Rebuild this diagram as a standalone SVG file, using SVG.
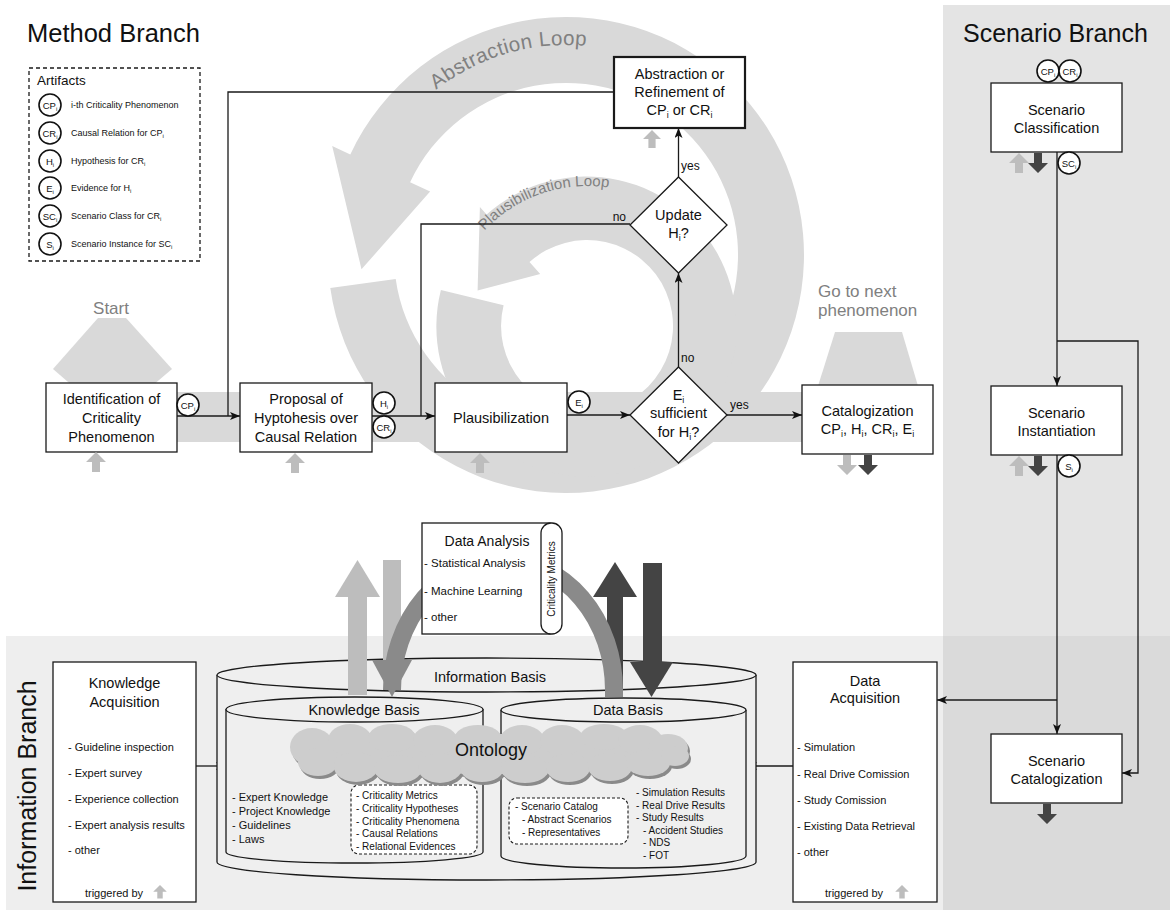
<svg xmlns="http://www.w3.org/2000/svg" width="1170" height="915" viewBox="0 0 1170 915">
<defs>
<style>
text{font-family:"Liberation Sans",Arial,sans-serif;fill:#111}
.box{fill:#fff;stroke:#1a1a1a;stroke-width:1.3}
.ln{fill:none;stroke:#1a1a1a;stroke-width:1.3}
.lna{fill:none;stroke:#1a1a1a;stroke-width:1.3;marker-end:url(#ah)}
.art{fill:#fff;stroke:#111;stroke-width:1.6}
.ring{fill:#d9d9d9}
.lt{fill:#bdbdbd}
.dk{fill:#444}
.md{fill:#8a8a8a}
.gt{fill:#808080}
.b{font-size:14.5px}
.s{font-size:11px}
.xs{font-size:10px}
.lg{font-size:9px}
.ci{font-size:9.5px}
.dash{fill:#fff;stroke:#1a1a1a;stroke-width:1.1;stroke-dasharray:3 2}
.cyl{fill:#efefef;stroke:#1a1a1a;stroke-width:1.3}
</style>
<marker id="ah" viewBox="0 0 10 8" refX="10" refY="4" markerWidth="10" markerHeight="8" orient="auto" markerUnits="userSpaceOnUse"><path d="M0,0 L10,4 L0,8 L2.5,4 Z" fill="#111"/></marker>
<path id="upa" d="M0,0 L10,10 L4,10 L4,20 L-4,20 L-4,10 L-10,10 Z"/>
<path id="dna" d="M0,20 L10,10 L4,10 L4,0 L-4,0 L-4,10 L-10,10 Z"/>
<path id="absPath" d="M 425.5 98.9 A 210 210 0 0 1 671 73.1"/>
<path id="plaPath" d="M 483 232.3 A 140 140 0 0 1 657 204.8"/>
<g id="cloudShape">
<ellipse cx="489" cy="754" rx="190" ry="20"/>
<ellipse cx="312" cy="747" rx="22" ry="19"/><ellipse cx="350" cy="740" rx="22" ry="16"/><ellipse cx="392" cy="738" rx="24" ry="14"/><ellipse cx="435" cy="740" rx="22" ry="15"/><ellipse cx="478" cy="739" rx="24" ry="14"/><ellipse cx="522" cy="740" rx="22" ry="15"/><ellipse cx="562" cy="740" rx="22" ry="15"/><ellipse cx="604" cy="737" rx="24" ry="13"/><ellipse cx="640" cy="740" rx="22" ry="15"/><ellipse cx="668" cy="748" rx="20" ry="14"/>
<ellipse cx="318" cy="762" rx="20" ry="14"/><ellipse cx="356" cy="767" rx="22" ry="15"/><ellipse cx="398" cy="769" rx="24" ry="14"/><ellipse cx="440" cy="768" rx="22" ry="15"/><ellipse cx="482" cy="768" rx="22" ry="14"/><ellipse cx="525" cy="769" rx="24" ry="14"/><ellipse cx="568" cy="768" rx="22" ry="14"/><ellipse cx="610" cy="767" rx="22" ry="14"/><ellipse cx="648" cy="763" rx="22" ry="13"/><ellipse cx="675" cy="756" rx="14" ry="10"/>
</g>
</defs>

<!-- backgrounds -->
<rect x="0" y="0" width="1170" height="915" fill="#ffffff"/>
<rect x="943" y="5" width="227" height="905" fill="#e4e4e4"/>
<rect x="6" y="636" width="937" height="274" fill="#eeeeee"/>
<rect x="943" y="636" width="227" height="274" fill="#dadada"/>

<!-- loops and flow band -->
<g id="loops">
<path class="ring" d="M 330.3 288.1 A 238 238 0 1 0 350.3 154.4 L 332.2 146.0 L 361.5 269.3 L 430.1 191.6 L 410.1 182.3 A 172 172 0 1 1 395.7 278.9 Z"/>
<path class="ring" d="M 440.9 289.9 A 150 150 0 1 0 486.6 214.5 L 479.9 207.1 L 477.6 290.5 L 540.2 274.0 L 529.5 262.1 A 86 86 0 1 1 503.6 305.2 Z"/>
<rect class="ring" x="177" y="392" width="625" height="50"/>
<polygon class="ring" points="98,318 126,318 172,369 112,420 53,369"/>
<polygon class="ring" points="835,332 902,332 918,386 818,386"/>
<text font-size="20.5" class="gt" letter-spacing="0.4"><textPath href="#absPath" startOffset="14">Abstraction Loop</textPath></text>
<text font-size="15" class="gt"><textPath href="#plaPath" startOffset="2">Plausibilization Loop</textPath></text>
<text x="111" y="314" font-size="17" text-anchor="middle" class="gt">Start</text>
<text x="818" y="297" font-size="17" class="gt">Go to next</text>
<text x="818" y="316" font-size="17" class="gt">phenomenon</text>
</g>

<!-- titles -->
<text x="27" y="42" font-size="25.5">Method Branch</text>
<text x="963" y="42" font-size="25">Scenario Branch</text>
<text transform="translate(36,786) rotate(-90)" font-size="25" text-anchor="middle">Information Branch</text>

<!-- legend -->
<g id="legend">
<rect x="29" y="68" width="171" height="193" fill="none" stroke="#1a1a1a" stroke-width="1.3" stroke-dasharray="4 3"/>
<text x="37" y="85" font-size="13.5">Artifacts</text>
<circle class="art" cx="50" cy="105" r="11"/><text class="ci" x="50" y="108.5" text-anchor="middle">CP<tspan font-size="6" dy="2">i</tspan></text>
<circle class="art" cx="50" cy="133" r="11"/><text class="ci" x="50" y="136.5" text-anchor="middle">CR<tspan font-size="6" dy="2">i</tspan></text>
<circle class="art" cx="50" cy="161" r="11"/><text class="ci" x="50" y="164.5" text-anchor="middle">H<tspan font-size="6" dy="2">i</tspan></text>
<circle class="art" cx="50" cy="188" r="11"/><text class="ci" x="50" y="191.5" text-anchor="middle">E<tspan font-size="6" dy="2">i</tspan></text>
<circle class="art" cx="50" cy="216" r="11"/><text class="ci" x="50" y="219.5" text-anchor="middle">SC<tspan font-size="6" dy="2">i</tspan></text>
<circle class="art" cx="50" cy="244" r="11"/><text class="ci" x="50" y="247.5" text-anchor="middle">S<tspan font-size="6" dy="2">i</tspan></text>
<text class="lg" x="71" y="108">i-th Criticality Phenomenon</text>
<text class="lg" x="71" y="136">Causal Relation for CP<tspan font-size="6" dy="2">i</tspan></text>
<text class="lg" x="71" y="164">Hypothesis for CR<tspan font-size="6" dy="2">i</tspan></text>
<text class="lg" x="71" y="191">Evidence for H<tspan font-size="6" dy="2">i</tspan></text>
<text class="lg" x="71" y="219">Scenario Class for CR<tspan font-size="6" dy="2">i</tspan></text>
<text class="lg" x="71" y="247">Scenario Instance for SC<tspan font-size="6" dy="2">i</tspan></text>
</g>

<!-- connectors -->
<g id="connectors">
<path class="lna" d="M177,416 L240,416"/>
<path class="ln" d="M614,92 L228,92 L228,416"/>
<path class="lna" d="M372,416 L435,416"/>
<path class="ln" d="M630,224 L421,224 L421,416"/>
<path class="lna" d="M567,415 L630,415"/>
<path class="lna" d="M678.5,367 L678.5,273"/>
<path class="lna" d="M678.5,177 L678.5,128"/>
<path class="lna" d="M727,415 L802,415"/>
<path class="lna" d="M1057,152 L1057,386"/>
<path class="lna" d="M1057,341 L1138,341 L1138,773 L1122,773"/>
<path class="lna" d="M1057,455 L1057,734"/>
<path class="lna" d="M1057,700 L937,700"/>
<path class="lna" d="M196,766 L226,766"/>
<path class="lna" d="M793,766 L747,766"/>
<text x="626" y="221" font-size="12" text-anchor="end">no</text>
<text x="681" y="170" font-size="12">yes</text>
<text x="681" y="362" font-size="12">no</text>
<text x="730" y="409" font-size="12">yes</text>
</g>

<!-- method nodes -->
<g id="identification">
<rect class="box" x="46" y="383" width="131" height="69"/>
<text class="b" x="111.5" y="404" text-anchor="middle">Identification of</text>
<text class="b" x="111.5" y="423" text-anchor="middle">Criticality</text>
<text class="b" x="111.5" y="442" text-anchor="middle">Phenomenon</text>
<use href="#upa" x="96" y="452" class="lt"/>
<circle class="art" cx="188" cy="405" r="11"/><text class="ci" x="188" y="408.5" text-anchor="middle">CP<tspan font-size="6" dy="2">i</tspan></text>
</g>
<g id="proposal">
<rect class="box" x="240" y="383" width="132" height="69"/>
<text class="b" x="306" y="404" text-anchor="middle">Proposal of</text>
<text class="b" x="306" y="423" text-anchor="middle">Hyptohesis over</text>
<text class="b" x="306" y="442" text-anchor="middle">Causal Relation</text>
<use href="#upa" x="295" y="453" class="lt"/>
<circle class="art" cx="384" cy="403" r="11"/><text class="ci" x="384" y="406.5" text-anchor="middle">H<tspan font-size="6" dy="2">i</tspan></text>
<circle class="art" cx="384" cy="427" r="11"/><text class="ci" x="384" y="430.5" text-anchor="middle">CR<tspan font-size="6" dy="2">i</tspan></text>
</g>
<g id="plausibilization">
<rect class="box" x="435" y="383" width="132" height="69"/>
<text class="b" x="501" y="423" text-anchor="middle">Plausibilization</text>
<use href="#upa" x="480" y="453" class="lt"/>
<circle class="art" cx="579" cy="402" r="11"/><text class="ci" x="579" y="405.5" text-anchor="middle">E<tspan font-size="6" dy="2">i</tspan></text>
</g>
<g id="sufficient">
<polygon class="box" points="678.5,367 727,415 678.5,463 630,415"/>
<text class="b" x="678.5" y="400" text-anchor="middle">E<tspan font-size="9" dy="3">i</tspan></text>
<text class="b" x="678.5" y="418" text-anchor="middle">sufficient</text>
<text class="b" x="678.5" y="437" text-anchor="middle">for H<tspan font-size="9" dy="3">i</tspan><tspan dy="-3">?</tspan></text>
</g>
<g id="update">
<polygon class="box" points="678.5,177 727,225 678.5,273 630,225"/>
<text class="b" x="678.5" y="220" text-anchor="middle">Update</text>
<text class="b" x="678.5" y="238" text-anchor="middle">H<tspan font-size="9" dy="3">i</tspan><tspan dy="-3">?</tspan></text>
</g>
<g id="abstraction">
<rect x="614" y="57" width="131" height="71" fill="#fff" stroke="#1a1a1a" stroke-width="2.2"/>
<text class="b" x="679.5" y="79" text-anchor="middle">Abstraction or</text>
<text class="b" x="679.5" y="97" text-anchor="middle">Refinement of</text>
<text class="b" x="679.5" y="115" text-anchor="middle">CP<tspan font-size="9" dy="3">i</tspan><tspan dy="-3"> or CR</tspan><tspan font-size="9" dy="3">i</tspan></text>
<use href="#upa" class="lt" transform="translate(652,130) scale(0.9)"/>
</g>
<g id="catalogization">
<rect class="box" x="802" y="385" width="131" height="69"/>
<text class="b" x="867.5" y="416" text-anchor="middle">Catalogization</text>
<text class="b" x="867.5" y="434" text-anchor="middle">CP<tspan font-size="9" dy="3">i</tspan><tspan dy="-3">, H</tspan><tspan font-size="9" dy="3">i</tspan><tspan dy="-3">, CR</tspan><tspan font-size="9" dy="3">i</tspan><tspan dy="-3">, E</tspan><tspan font-size="9" dy="3">i</tspan></text>
<use href="#dna" x="847" y="455" class="lt"/>
<use href="#dna" x="868" y="455" class="dk"/>
</g>

<!-- scenario nodes -->
<g id="scenClass">
<rect class="box" x="991" y="83" width="131" height="69"/>
<text class="b" x="1056.5" y="115" text-anchor="middle">Scenario</text>
<text class="b" x="1056.5" y="133" text-anchor="middle">Classification</text>
<circle class="art" cx="1048" cy="71" r="11"/><text class="ci" x="1048" y="74.5" text-anchor="middle">CP<tspan font-size="6" dy="2">i</tspan></text>
<circle class="art" cx="1070" cy="71" r="11"/><text class="ci" x="1070" y="74.5" text-anchor="middle">CR<tspan font-size="6" dy="2">i</tspan></text>
<circle class="art" cx="1069" cy="163" r="11"/><text class="ci" x="1069" y="166.5" text-anchor="middle">SC<tspan font-size="6" dy="2">i</tspan></text>
<use href="#upa" x="1019" y="153" class="lt"/>
<use href="#dna" x="1038" y="153" class="dk"/>
</g>
<g id="scenInst">
<rect class="box" x="991" y="386" width="131" height="69"/>
<text class="b" x="1056.5" y="418" text-anchor="middle">Scenario</text>
<text class="b" x="1056.5" y="436" text-anchor="middle">Instantiation</text>
<circle class="art" cx="1069" cy="466" r="11"/><text class="ci" x="1069" y="469.5" text-anchor="middle">S<tspan font-size="6" dy="2">i</tspan></text>
<use href="#upa" x="1019" y="456" class="lt"/>
<use href="#dna" x="1038" y="456" class="dk"/>
</g>
<g id="scenCat">
<rect class="box" x="991" y="734" width="131" height="69"/>
<text class="b" x="1056.5" y="766" text-anchor="middle">Scenario</text>
<text class="b" x="1056.5" y="784" text-anchor="middle">Catalogization</text>
<use href="#dna" x="1047" y="804" class="dk"/>
</g>

<!-- information branch -->
<g id="knowledgeAcq">
<rect class="box" x="53" y="662" width="143" height="240"/>
<text class="b" x="124.5" y="688" text-anchor="middle">Knowledge</text>
<text class="b" x="124.5" y="707" text-anchor="middle">Acquisition</text>
<text class="s" x="68" y="751">- Guideline inspection</text>
<text class="s" x="68" y="777">- Expert survey</text>
<text class="s" x="68" y="803">- Experience collection</text>
<text class="s" x="68" y="829">- Expert analysis results</text>
<text class="s" x="68" y="854">- other</text>
<text class="s" x="114" y="897" text-anchor="middle">triggered by</text>
<use href="#upa" class="lt" transform="translate(160,885) scale(0.68)"/>
</g>
<g id="dataAcq">
<rect class="box" x="793" y="662" width="144" height="240"/>
<text class="b" x="865" y="686" text-anchor="middle">Data</text>
<text class="b" x="865" y="703" text-anchor="middle">Acquisition</text>
<text class="s" x="797" y="751">- Simulation</text>
<text class="s" x="797" y="778">- Real Drive Comission</text>
<text class="s" x="797" y="804">- Study Comission</text>
<text class="s" x="797" y="830">- Existing Data Retrieval</text>
<text class="s" x="797" y="856">- other</text>
<text class="s" x="854" y="897" text-anchor="middle">triggered by</text>
<use href="#upa" class="lt" transform="translate(902,885) scale(0.68)"/>
</g>

<g id="informationBasis">
<path class="cyl" d="M217,675 L217,862 A269.5,18 0 0 0 756,862 L756,675"/>
<ellipse class="cyl" cx="486.5" cy="675" rx="269.5" ry="17"/>
<text class="b" x="490" y="682" text-anchor="middle">Information Basis</text>
</g>
<g id="knowledgeBasis">
<path class="cyl" d="M226,709 L226,852 A128.5,11 0 0 0 483,852 L483,709"/>
<ellipse class="cyl" cx="354.5" cy="709.5" rx="128.5" ry="12.5"/>
<text class="b" x="364" y="714.5" text-anchor="middle">Knowledge Basis</text>
<text class="s" x="232" y="801">- Expert Knowledge</text>
<text class="s" x="232" y="815">- Project Knowledge</text>
<text class="s" x="232" y="829">- Guidelines</text>
<text class="s" x="232" y="843">- Laws</text>
<rect class="dash" x="351" y="785" width="126" height="69" rx="8"/>
<text class="xs" x="356" y="799">- Criticality Metrics</text>
<text class="xs" x="356" y="812">- Criticality Hypotheses</text>
<text class="xs" x="356" y="825">- Criticality Phenomena</text>
<text class="xs" x="356" y="837">- Causal Relations</text>
<text class="xs" x="356" y="850">- Relational Evidences</text>
</g>
<g id="dataBasis">
<path class="cyl" d="M501,710 L501,856 A122.5,12 0 0 0 746,856 L746,710"/>
<ellipse class="cyl" cx="623.5" cy="710" rx="122.5" ry="12"/>
<text class="b" x="628" y="715" text-anchor="middle">Data Basis</text>
<rect class="dash" x="509" y="798" width="119" height="46" rx="8"/>
<text class="xs" x="515" y="810">- Scenario Catalog</text>
<text class="xs" x="522" y="823">- Abstract Scenarios</text>
<text class="xs" x="522" y="836">- Representatives</text>
<text class="xs" x="636" y="796">- Simulation Results</text>
<text class="xs" x="636" y="809">- Real Drive Results</text>
<text class="xs" x="636" y="821">- Study Results</text>
<text class="xs" x="643" y="834">- Accident Studies</text>
<text class="xs" x="643" y="846">- NDS</text>
<text class="xs" x="643" y="859">- FOT</text>
</g>
<g id="ontology">
<use href="#cloudShape" transform="translate(2,3)" fill="#8a8a8a"/>
<use href="#cloudShape" fill="#cdcdcd"/>
<text x="491" y="756" font-size="18" text-anchor="middle">Ontology</text>
</g>

<!-- big flow arrows -->
<g id="flowArrows">
<rect class="lt" x="348" y="595" width="19" height="100"/>
<polygon class="lt" points="335,597 380,597 357.5,560"/>
<rect class="lt" x="383" y="560" width="18" height="120"/>
<rect class="dk" x="607" y="596" width="16" height="100"/>
<polygon class="dk" points="593,597 637,597 615,562"/>
<rect class="dk" x="643" y="563" width="19" height="100"/>
<polygon class="dk" points="630,662 673,662 651.5,697"/>
<path d="M614,697 L614,690 A111,130 0 0 0 392,690" fill="none" stroke="#8a8a8a" stroke-width="18"/>
<polygon class="md" points="372,660 412,660 392,697"/>
</g>

<g id="dataAnalysis">
<rect class="box" x="422" y="523" width="128" height="111"/>
<rect class="box" x="541" y="523" width="21" height="111" rx="10"/>
<text x="487" y="546" font-size="14" text-anchor="middle">Data Analysis</text>
<text x="424" y="567" font-size="11.5">- Statistical Analysis</text>
<text x="424" y="595" font-size="11.5">- Machine Learning</text>
<text x="424" y="621" font-size="11.5">- other</text>
<text transform="translate(555,579) rotate(-90)" font-size="10" text-anchor="middle">Criticality Metrics</text>
</g>
</svg>
